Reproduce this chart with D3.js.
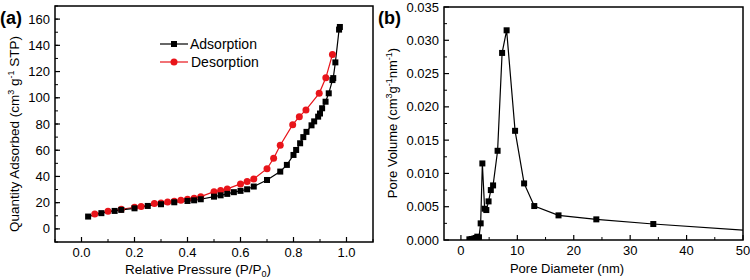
<!DOCTYPE html>
<html><head><meta charset="utf-8">
<script src="https://cdn.jsdelivr.net/npm/d3@7"></script>
<style>body{margin:0;background:#fff}svg{display:block;font-family:"Liberation Sans",Arial,sans-serif}</style>
</head><body><svg id="c" width="750" height="280"></svg>
<script>
// Panel (a): N2 isotherm
const adsX = [0.025,0.075,0.125,0.15,0.2,0.25,0.3,0.35,0.4,0.425,0.45,0.5,0.525,0.55,0.575,0.6,0.625,0.65,0.7,0.75,0.775,0.8,0.81,0.825,0.837,0.849,0.868,0.878,0.893,0.9,0.908,0.921,0.933,0.947,0.95,0.958,0.972,0.975];
const adsY = [9.4,12,13.7,14.5,15.7,17.5,18.8,20.3,21.3,21.8,22.6,24.6,25.6,26.7,28,29,30.2,32.3,37.3,43.7,48.8,56.4,60.2,65.3,70,74,79,82,85.6,88,92,97,103.4,113.5,115,127,152,154];
const desX = [0.05,0.1,0.15,0.2,0.225,0.275,0.3,0.325,0.35,0.375,0.4,0.425,0.45,0.5,0.525,0.55,0.6,0.625,0.65,0.7,0.725,0.75,0.797,0.822,0.847,0.897,0.922,0.947];
const desY = [11.4,13.4,15,16.5,17,19.3,19.8,20.5,21,21.8,22.6,23.4,24.6,28.4,29.2,30.5,34.3,36.1,38.1,45.9,53.8,63.8,79.5,85.6,90.7,103.4,115.2,133];
const aXTicks = [0.0,0.2,0.4,0.6,0.8,1.0];
const aYTicks = [0,20,40,60,80,100,120,140,160];
// Panel (b): pore size distribution
const poreD = [1.5,1.9,2.3,2.6,2.9,3.2,3.5,3.8,4.2,4.5,4.9,5.3,5.7,6.5,7.3,8.1,9.6,11.2,13.0,17.3,24.0,34.1,62];
const poreV = [0.0001,0.00015,0.0002,0.0003,0.0005,0.0004,0.0025,0.0115,0.0047,0.0045,0.0058,0.0075,0.0082,0.0134,0.0281,0.0315,0.0164,0.0085,0.0051,0.0037,0.0031,0.0024,0.0008];
const bXTicks = [0,10,20,30,40,50];
const bYTicks = [0,0.005,0.010,0.015,0.020,0.025,0.030,0.035];

const svg = d3.select("#c");
const FS = 13;

function frame(g, x, y, xTicks, xMinor, yTicks, yMinor, xFmt, yFmt){
  const [x0,x1] = x.range(), [y0,y1] = y.range();
  g.append("rect").attr("x",x0).attr("y",y1).attr("width",x1-x0).attr("height",y0-y1)
    .attr("fill","none").attr("stroke","#000").attr("stroke-width",1.5);
  xMinor.forEach(v=>g.append("line").attr("x1",x(v)).attr("x2",x(v)).attr("y1",y0).attr("y2",y0-3).attr("stroke","#000"));
  xTicks.forEach(v=>{
    g.append("line").attr("x1",x(v)).attr("x2",x(v)).attr("y1",y0).attr("y2",y0-5).attr("stroke","#000").attr("stroke-width",1.2);
    g.append("text").attr("x",x(v)).attr("y",y0+14.5).attr("text-anchor","middle").attr("font-size",FS).text(xFmt(v));
  });
  yMinor.forEach(v=>g.append("line").attr("x1",x0).attr("x2",x0+3).attr("y1",y(v)).attr("y2",y(v)).attr("stroke","#000"));
  yTicks.forEach(v=>{
    g.append("line").attr("x1",x0).attr("x2",x0+5).attr("y1",y(v)).attr("y2",y(v)).attr("stroke","#000").attr("stroke-width",1.2);
    g.append("text").attr("x",x0-5).attr("y",y(v)+4.5).attr("text-anchor","end").attr("font-size",FS).text(yFmt(v));
  });
}

// ---- Panel a
const xa = d3.scaleLinear().domain([-0.1,1.1]).range([55,373]);
const ya = d3.scaleLinear().domain([-10,170]).range([242,6]);
const ga = svg.append("g");
frame(ga, xa, ya, aXTicks, d3.range(-0.1,1.11,0.1).map(v=>+v.toFixed(2)), aYTicks, d3.range(-10,171,10),
  d3.format(".1f"), d3.format("d"));
const ads = adsX.map((v,i)=>[v,adsY[i]]);
const des = desX.map((v,i)=>[v,desY[i]]);
const la = d3.line().x(d=>xa(d[0])).y(d=>ya(d[1]));
ga.append("path").attr("d",la(des)).attr("fill","none").attr("stroke","#e8141a").attr("stroke-width",1.2);
ga.append("path").attr("d",la(ads)).attr("fill","none").attr("stroke","#000").attr("stroke-width",1.2);
ga.selectAll(".dc").data(des).join("circle").attr("cx",d=>xa(d[0])).attr("cy",d=>ya(d[1])).attr("r",3.5).attr("fill","#e8141a");
ga.selectAll(".as").data(ads).join("rect").attr("x",d=>xa(d[0])-3).attr("y",d=>ya(d[1])-3).attr("width",6).attr("height",6).attr("fill","#000");
// legend
ga.append("line").attr("x1",160).attr("x2",188).attr("y1",44).attr("y2",44).attr("stroke","#000").attr("stroke-width",1.2);
ga.append("rect").attr("x",171).attr("y",41).attr("width",6).attr("height",6).attr("fill","#000");
ga.append("text").attr("x",190).attr("y",49).attr("font-size",14).text("Adsorption");
ga.append("line").attr("x1",160).attr("x2",188).attr("y1",62).attr("y2",62).attr("stroke","#e8141a").attr("stroke-width",1.2);
ga.append("circle").attr("cx",174).attr("cy",62).attr("r",3.5).attr("fill","#e8141a");
ga.append("text").attr("x",191).attr("y",67).attr("font-size",14).text("Desorption");
// labels
ga.append("text").attr("x",0).attr("y",24).attr("font-size",18).attr("font-weight","bold").text("(a)");
const ta = ga.append("text").attr("x",198).attr("y",274).attr("text-anchor","middle").attr("font-size",13.5);
ta.append("tspan").text("Relative Pressure (P/P");
ta.append("tspan").attr("font-size",9).attr("dy",3).text("0");
ta.append("tspan").attr("dy",-3).text(")");
const yla = ga.append("text").attr("transform","translate(19,134) rotate(-90)").attr("text-anchor","middle").attr("font-size",13.5);
yla.append("tspan").text("Quantity Adsorbed (cm");
yla.append("tspan").attr("font-size",9).attr("dy",-5).text("3");
yla.append("tspan").attr("dy",5).text(" g");
yla.append("tspan").attr("font-size",9).attr("dy",-5).text("-1");
yla.append("tspan").attr("dy",5).text(" STP)");

// ---- Panel b
const xb = d3.scaleLinear().domain([-3,50]).range([444,743]);
const yb = d3.scaleLinear().domain([0,0.035]).range([240,7]);
const gb = svg.append("g");
frame(gb, xb, yb, bXTicks, d3.range(5,50,10), bYTicks, d3.range(0.0025,0.035,0.005),
  d3.format("d"), d3.format(".3f"));
gb.append("clipPath").attr("id","cb").append("rect").attr("x",444).attr("y",7).attr("width",299).attr("height",233);
const pb = poreD.map((v,i)=>[v,poreV[i]]);
const lb = d3.line().x(d=>xb(d[0])).y(d=>yb(d[1]));
const gc = gb.append("g").attr("clip-path","url(#cb)");
gc.append("path").attr("d",lb(pb)).attr("fill","none").attr("stroke","#000").attr("stroke-width",1.2);
gc.selectAll("rect.m").data(pb).join("rect").attr("x",d=>xb(d[0])-3).attr("y",d=>yb(d[1])-3).attr("width",6).attr("height",6).attr("fill","#000");
gb.append("text").attr("x",378).attr("y",24).attr("font-size",18).attr("font-weight","bold").text("(b)");
gb.append("text").attr("x",567).attr("y",273).attr("text-anchor","middle").attr("font-size",FS).text("Pore Diameter (nm)");
const ylb = gb.append("text").attr("transform","translate(397,123) rotate(-90)").attr("text-anchor","middle").attr("font-size",FS);
ylb.append("tspan").text("Pore Volume (cm");
ylb.append("tspan").attr("font-size",9).attr("dy",-5).text("3");
ylb.append("tspan").attr("dy",5).text("g");
ylb.append("tspan").attr("font-size",9).attr("dy",-5).text("-1");
ylb.append("tspan").attr("dy",5).text("nm");
ylb.append("tspan").attr("font-size",9).attr("dy",-5).text("-1");
ylb.append("tspan").attr("dy",5).text(")");
</script></body></html>
